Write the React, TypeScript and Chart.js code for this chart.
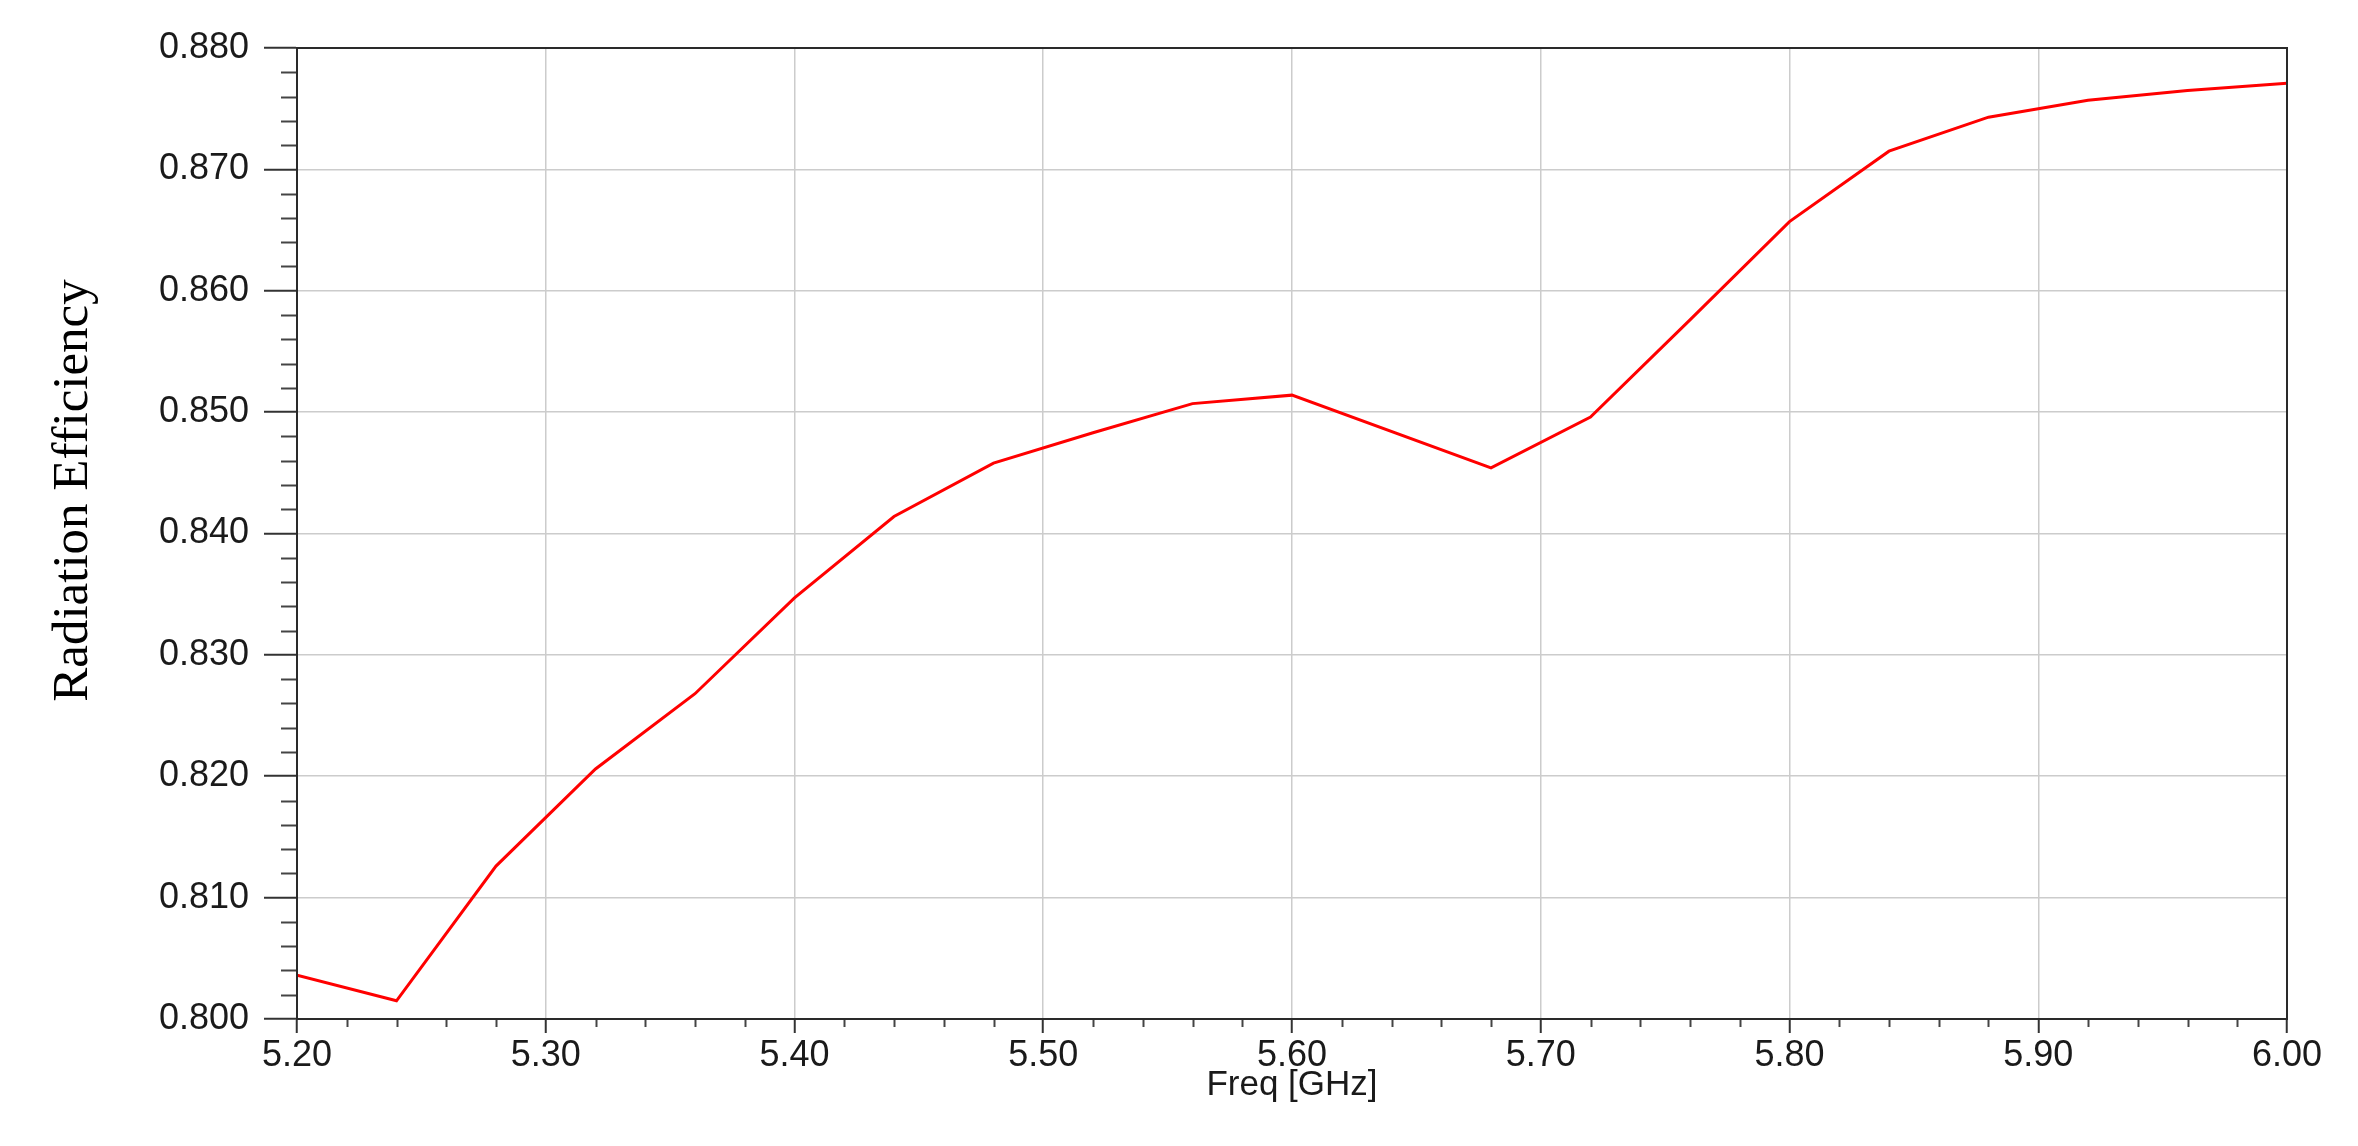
import React, { useEffect, useRef } from "react";
import { Chart, registerables } from "chart.js";

Chart.register(...registerables);

// Frequency samples (GHz) and radiation efficiency
const freqGHz = [5.2, 5.24, 5.28, 5.32, 5.36, 5.4, 5.44, 5.48, 5.52, 5.56, 5.6, 5.68, 5.72, 5.76, 5.8, 5.84, 5.88, 5.92, 5.96, 6.0];
const efficiency = [0.8036, 0.8015, 0.8126, 0.8206, 0.8268, 0.8347, 0.8414, 0.8458, 0.8483, 0.8507, 0.8514, 0.8454, 0.8496, 0.8576, 0.8657, 0.8715, 0.8743, 0.8757, 0.8765, 0.8771];

const xRange = [5.2, 6.0];
const yRange = [0.8, 0.88];
const xMajorStep = 0.1;
const yMajorStep = 0.01;
const minorDivisions = 5;

const xTitle = "Freq [GHz]";
const yTitle = "Radiation Efficiency";

const SANS = "'Liberation Sans', Arial, sans-serif";
const SERIF = "'Liberation Serif', 'Times New Roman', serif";

const decorPlugin = {
  id: "decor",
  afterDraw(chart: any) {
    const { ctx, chartArea, scales } = chart;
    const xs = scales.x;
    const ys = scales.y;
    ctx.save();
    // minor ticks
    ctx.strokeStyle = "#444";
    ctx.lineWidth = 2;
    const nx = Math.round((xRange[1] - xRange[0]) / (xMajorStep / minorDivisions));
    for (let i = 0; i <= nx; i++) {
      if (i % minorDivisions === 0) continue;
      const v = xRange[0] + (i * xMajorStep) / minorDivisions;
      const px = Math.round(xs.getPixelForValue(v)) + 0.5;
      ctx.beginPath();
      ctx.moveTo(px, chartArea.bottom);
      ctx.lineTo(px, chartArea.bottom + 8);
      ctx.stroke();
    }
    const ny = Math.round((yRange[1] - yRange[0]) / (yMajorStep / minorDivisions));
    for (let i = 0; i <= ny; i++) {
      if (i % minorDivisions === 0) continue;
      const v = yRange[0] + (i * yMajorStep) / minorDivisions;
      const py = Math.round(ys.getPixelForValue(v)) + 0.5;
      ctx.beginPath();
      ctx.moveTo(chartArea.left - 16, py);
      ctx.lineTo(chartArea.left, py);
      ctx.stroke();
    }
    // frame
    ctx.strokeStyle = "#2a2a2a";
    ctx.lineWidth = 2;
    ctx.strokeRect(chartArea.left, chartArea.top, chartArea.right - chartArea.left, chartArea.bottom - chartArea.top);

    // x title
    ctx.fillStyle = "#1a1a1a";
    ctx.font = `35px ${SANS}`;
    ctx.textAlign = "center";
    ctx.textBaseline = "alphabetic";
    ctx.fillText(xTitle, (chartArea.left + chartArea.right) / 2, chartArea.bottom + 76);

    // y title
    ctx.save();
    ctx.translate(chartArea.left - 210, (chartArea.top + chartArea.bottom) / 2 - 43);
    ctx.rotate(-Math.PI / 2);
    ctx.font = `51px ${SERIF}`;
    ctx.fillStyle = "#000";
    ctx.textAlign = "center";
    ctx.textBaseline = "alphabetic";
    ctx.fillText(yTitle, 0, 0);
    ctx.restore();
    ctx.restore();
  },
};

export default function App() {
  const canvasRef = useRef<HTMLCanvasElement | null>(null);

  useEffect(() => {
    document.body.style.margin = "0";
    const canvas = canvasRef.current;
    if (!canvas) return;
    const points = freqGHz.map((f, i) => ({ x: f, y: efficiency[i] }));
    const chart = new Chart(canvas, {
      type: "line",
      data: {
        datasets: [
          {
            data: points,
            borderColor: "#ff0000",
            borderWidth: 3,
            pointRadius: 0,
            tension: 0,
            fill: false,
          },
        ],
      },
      options: {
        animation: false,
        responsive: false,
        maintainAspectRatio: false,
        layout: { padding: { top: 48, right: 71, left: 0, bottom: 0 } },
        plugins: {
          legend: { display: false },
          tooltip: { enabled: false },
          title: { display: false },
        },
        scales: {
          x: {
            type: "linear",
            min: xRange[0],
            max: xRange[1],
            afterFit: (s: any) => {
              s.height = 127;
            },
            ticks: {
              stepSize: xMajorStep,
              callback: (v: any) => Number(v).toFixed(2),
              font: { family: SANS, size: 36 },
              color: "#1a1a1a",
              padding: 1,
              maxRotation: 0,
              autoSkip: false,
            },
            grid: {
              color: "#cccccc",
              lineWidth: 1.5,
              tickColor: "#333",
              tickLength: 14,
              tickWidth: 2,
            },
            border: { display: true, color: "#2a2a2a", width: 2 },
          },
          y: {
            type: "linear",
            min: yRange[0],
            max: yRange[1],
            afterFit: (s: any) => {
              s.width = 297;
            },
            ticks: {
              stepSize: yMajorStep,
              callback: (v: any) => Number(v).toFixed(3),
              font: { family: SANS, size: 36 },
              color: "#1a1a1a",
              padding: 15,
              autoSkip: false,
            },
            grid: {
              color: "#cccccc",
              lineWidth: 1.5,
              tickColor: "#333",
              tickLength: 33,
              tickWidth: 2,
            },
            border: { display: true, color: "#2a2a2a", width: 2 },
          },
        },
      },
      plugins: [decorPlugin],
    });
    return () => chart.destroy();
  }, []);

  return (
    <div style={{ width: 2358, height: 1146, background: "#fff" }}>
      <canvas ref={canvasRef} width={2358} height={1146} style={{ width: 2358, height: 1146, display: "block" }} />
    </div>
  );
}
